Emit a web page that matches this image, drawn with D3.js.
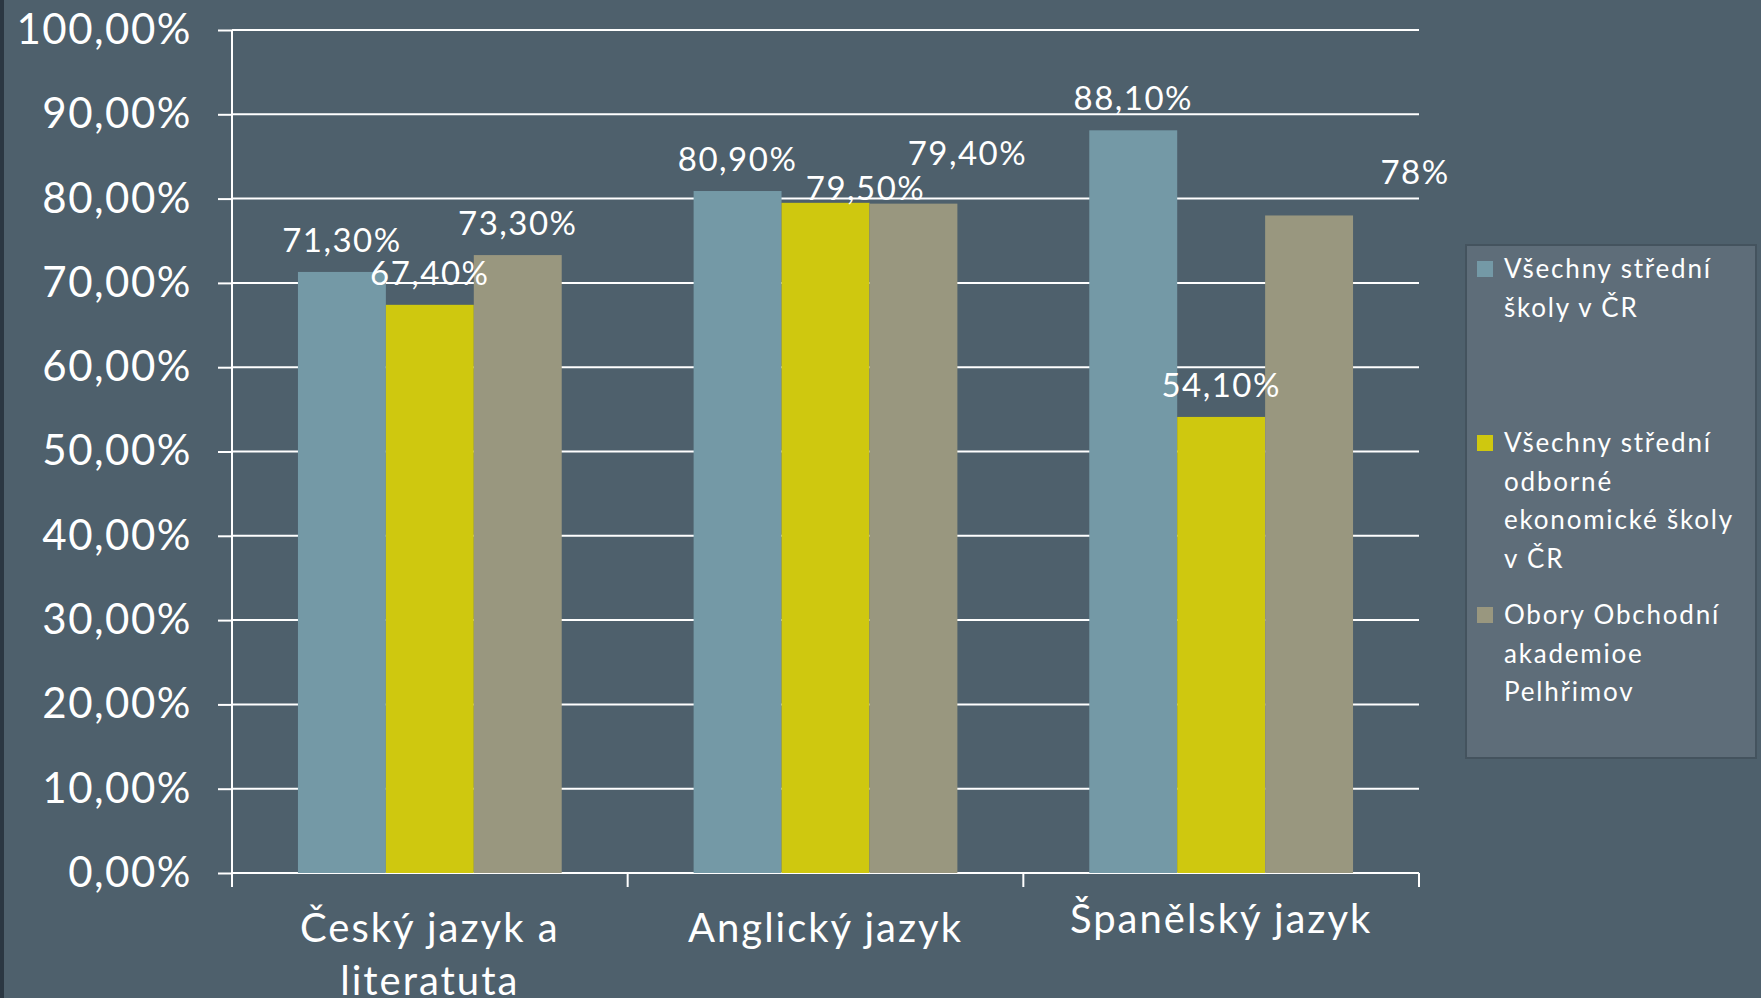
<!DOCTYPE html>
<html>
<head>
<meta charset="utf-8">
<script src="https://cdnjs.cloudflare.com/ajax/libs/d3/7.8.5/d3.min.js"></script>
<style>
    body { margin: 0; background: #4e606c; overflow: hidden; }
    svg { display: block; font-family: Lato, "Open Sans", sans-serif; }
</style>
</head>
<body>
<svg id="drawing_region"></svg>
<script>
// categories (x axis) and how they wrap
const categories = ["Český jazyk a literatuta", "Anglický jazyk", "Španělský jazyk"];
const category_lines = [["Český jazyk a", "literatuta"], ["Anglický jazyk"], ["Španělský jazyk"]];

// series
const series_keys = ["all", "econ", "oa"];
const series_names = [
    "Všechny střední školy v ČR",
    "Všechny střední odborné ekonomické školy v ČR",
    "Obory Obchodní akademioe Pelhřimov"
];
const legend_lines = [
    ["Všechny střední", "školy v ČR"],
    ["Všechny střední", "odborné", "ekonomické školy", "v ČR"],
    ["Obory Obchodní", "akademioe", "Pelhřimov"]
];
const series_colors = ["#7499a6", "#cfc80f", "#99977f"];

// values in percent, one per category
const all_schools = [71.3, 80.9, 88.1];
const econ_schools = [67.4, 79.5, 54.1];
const oa_pelhrimov = [73.3, 79.4, 78];

// data labels as printed on the chart
const all_schools_labels = ["71,30%", "80,90%", "88,10%"];
const econ_schools_labels = ["67,40%", "79,50%", "54,10%"];
const oa_pelhrimov_labels = ["73,30%", "79,40%", "78%"];

// y axis ticks
const y_ticks = [0, 10, 20, 30, 40, 50, 60, 70, 80, 90, 100];
const y_tick_labels = ["0,00%", "10,00%", "20,00%", "30,00%", "40,00%", "50,00%",
                       "60,00%", "70,00%", "80,00%", "90,00%", "100,00%"];

// some labels were dragged by hand in the original (dx, dy in px)
const label_nudge = {
    "Anglický jazyk|econ": [40, 17],
    "Anglický jazyk|oa": [54, -19],
    "Španělský jazyk|oa": [106, -11]
};

const series_values = [all_schools, econ_schools, oa_pelhrimov];
const series_labels = [all_schools_labels, econ_schools_labels, oa_pelhrimov_labels];

const data = categories.map( (c, i) => ({
    category: c,
    lines: category_lines[i],
    values: series_keys.map( (k, j) => ({
        category: c,
        key: k,
        value: series_values[j][i],
        label: series_labels[j][i]
    }))
}));

class GroupedBarChart {

    constructor( config, data ) {
        this.config = {
            parent: config.parent,
            width: config.width || 1761,
            height: config.height || 998,
            margin: config.margin
        }
        this.data = data;
        this.init();
    }

    init() {
        let self = this;
        const m = self.config.margin;

        self.svg = d3.select( self.config.parent )
            .attr('width', self.config.width)
            .attr('height', self.config.height);

        self.svg.append('rect')
            .attr('width', self.config.width)
            .attr('height', self.config.height)
            .attr('fill', '#4e606c');

        // dark strip on the left edge of the slide
        self.svg.append('rect')
            .attr('width', 4)
            .attr('height', self.config.height)
            .attr('fill', '#2b3742');

        self.inner_width = self.config.width - m.left - m.right;
        self.inner_height = self.config.height - m.top - m.bottom;

        self.chart = self.svg.append('g')
            .attr('transform', `translate(${m.left}, ${m.top})`);

        self.xscale = d3.scaleBand()
            .range( [0, self.inner_width] )
            .paddingInner( 1/3 )
            .paddingOuter( 1/6 );

        self.xsub = d3.scaleBand()
            .padding( 0 );

        self.yscale = d3.scaleLinear()
            .range( [self.inner_height, 0] );

        self.color = d3.scaleOrdinal()
            .domain( series_keys )
            .range( series_colors );
    }

    update() {
        let self = this;
        self.xscale.domain( self.data.map( d => d.category ) );
        self.xsub.domain( series_keys ).range( [0, self.xscale.bandwidth()] );
        self.yscale.domain( [0, 100] );
        self.render();
    }

    render() {
        let self = this;
        const H = self.inner_height;
        const W = self.inner_width;

        // gridlines
        self.chart.selectAll('.grid')
            .data( y_ticks )
            .join('line')
            .attr('class', 'grid')
            .attr('x1', 0)
            .attr('x2', W)
            .attr('y1', d => self.yscale(d))
            .attr('y2', d => self.yscale(d))
            .attr('stroke', '#ffffff')
            .attr('stroke-width', 2);

        // y axis
        const yaxis = d3.axisLeft( self.yscale )
            .tickValues( y_ticks )
            .tickFormat( (d, i) => y_tick_labels[i] )
            .tickSize( 14 )
            .tickPadding( 26 );

        const yg = self.chart.append('g').call( yaxis );
        yg.select('.domain').remove();
        yg.selectAll('.tick line').attr('stroke', '#ffffff').attr('stroke-width', 2);
        yg.selectAll('.tick text')
            .attr('fill', '#ffffff')
            .attr('dy', '0.32em')
            .style('font-size', '42px')
            .style('letter-spacing', '1.5px')
            .style('font-family', 'Lato, sans-serif');

        // bars
        const groups = self.chart.selectAll('.group')
            .data( self.data )
            .join('g')
            .attr('class', 'group')
            .attr('transform', d => `translate(${self.xscale(d.category)}, 0)`);

        groups.selectAll('rect')
            .data( d => d.values )
            .join('rect')
            .attr('x', d => self.xsub(d.key))
            .attr('y', d => self.yscale(d.value))
            .attr('width', self.xsub.bandwidth())
            .attr('height', d => H - self.yscale(d.value))
            .attr('fill', d => self.color(d.key));

        // data labels
        groups.selectAll('text')
            .data( d => d.values )
            .join('text')
            .attr('x', d => self.xsub(d.key) + self.xsub.bandwidth()/2 + (label_nudge[d.category + '|' + d.key] || [0, 0])[0])
            .attr('y', d => self.yscale(d.value) - 20 + (label_nudge[d.category + '|' + d.key] || [0, 0])[1])
            .attr('text-anchor', 'middle')
            .attr('fill', '#ffffff')
            .style('font-size', '33px')
            .style('letter-spacing', '1.5px')
            .text( d => d.label );

        // axis lines (vertical y line and x baseline), category separators
        self.chart.append('line')
            .attr('x1', 0).attr('x2', 0)
            .attr('y1', 0).attr('y2', H + 14)
            .attr('stroke', '#ffffff').attr('stroke-width', 2);

        const step = self.xscale.step();
        const bounds = self.data.map( d => self.xscale(d.category) - step * self.xscale.paddingInner() / 2 );
        bounds.push( W );

        self.chart.selectAll('.xsep')
            .data( bounds )
            .join('line')
            .attr('class', 'xsep')
            .attr('x1', d => d).attr('x2', d => d)
            .attr('y1', H).attr('y2', H + 14)
            .attr('stroke', '#ffffff').attr('stroke-width', 2);

        // category labels
        const cat_shift = [0, 0, -9];
        self.chart.selectAll('.cat')
            .data( self.data )
            .join('text')
            .attr('class', 'cat')
            .attr('text-anchor', 'middle')
            .attr('fill', '#ffffff')
            .style('font-size', '40px')
            .style('letter-spacing', '2px')
            .attr('transform', (d, i) => `translate(${self.xscale(d.category) + self.xscale.bandwidth()/2}, ${H + 69 + cat_shift[i]})`)
            .selectAll('tspan')
            .data( d => d.lines )
            .join('tspan')
            .attr('x', 0)
            .attr('dy', (d, i) => i === 0 ? 0 : 53)
            .text( d => d );

        // legend
        const legend = self.svg.append('g')
            .attr('transform', 'translate(1466, 245)');

        legend.append('rect')
            .attr('width', 290)
            .attr('height', 513)
            .attr('fill', '#5e6d79')
            .attr('stroke', '#44535e')
            .attr('stroke-width', 2);

        const legend_top = [16, 190, 362];
        const items = legend.selectAll('.item')
            .data( series_keys )
            .join('g')
            .attr('class', 'item')
            .attr('transform', (d, i) => `translate(11, ${legend_top[i]})`);

        items.append('rect')
            .attr('width', 16)
            .attr('height', 16)
            .attr('fill', d => self.color(d));

        items.append('text')
            .attr('x', 27)
            .attr('y', 17)
            .attr('fill', '#ffffff')
            .style('font-size', '26px')
            .style('letter-spacing', '1.8px')
            .selectAll('tspan')
            .data( (d, i) => legend_lines[i] )
            .join('tspan')
            .attr('x', 27)
            .attr('dy', (d, i) => i === 0 ? 0 : 38.5)
            .text( d => d );
    }
}

const config = {
    parent: '#drawing_region',
    width: 1761,
    height: 998,
    margin: { top: 30, right: 342, bottom: 125, left: 232 }
};

const chart = new GroupedBarChart( config, data );
chart.update();
</script>
</body>
</html>
